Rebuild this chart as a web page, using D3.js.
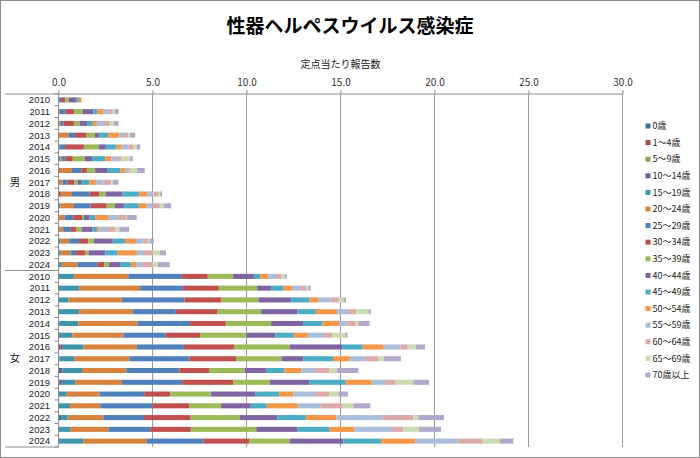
<!DOCTYPE html>
<html><head><meta charset="utf-8">
<script src="https://cdn.jsdelivr.net/npm/d3@7"></script>
<style>
html,body{margin:0;padding:0;background:#fff;}
svg{display:block;font-family:"Noto Sans CJK JP","Noto Sans",sans-serif;}
</style></head>
<body><svg id="chart" width="700" height="458"></svg>
<script>
const title = "性器ヘルペスウイルス感染症";
const axisTitle = "定点当たり報告数";
const groups = ["男", "女"];
const years = [2010,2011,2012,2013,2014,2015,2016,2017,2018,2019,2020,2021,2022,2023,2024];
const xTicks = [0, 5, 10, 15, 20, 25, 30];
const seriesNames = ["0歳","1～4歳","5～9歳","10～14歳","15～19歳","20～24歳","25～29歳","30～34歳","35～39歳","40～44歳","45～49歳","50～54歳","55～59歳","60～64歳","65～69歳","70歳以上"];
const seriesColors = ["#416f97","#a54c49","#8ea556","#6f5b91","#3f95ab","#d7823d","#4f81bd","#c0504d","#9bbb59","#8064a2","#4bacc6","#f79646","#a9bedb","#dcaaa9","#cddcaf","#b3a8cb"];

// each series: 15 male values (2010-2024) then 15 female values (2010-2024)
const age0     = [0,0,0,0,0,0,0,0,0,0,0,0,0,0,0,  0,0,0,0,0.05,0,0,0.05,0,0,0,0,0.14,0,0];
const age1_4   = [0,0,0,0,0,0,0.07,0,0.12,0,0,0,0,0,0,  0,0,0,0,0,0,0.10,0,0,0.05,0,0,0,0,0];
const age5_9   = [0,0,0,0,0,0,0,0,0,0,0,0,0,0,0,  0,0,0,0,0,0,0,0,0,0,0,0,0,0,0];
const age10_14 = [0,0,0,0,0,0,0,0,0,0,0,0,0,0,0,  0,0,0,0,0,0,0.13,0,0.20,0.13,0,0,0,0,0];
const age15_19 = [0,0,0,0,0,0.10,0,0,0,0.10,0,0,0.12,0.12,0.18,  0.82,1.10,0.53,1.10,1.01,0.74,1.10,0.78,1.05,0.71,0.44,0.62,0.35,0.62,1.33];
const age20_24 = [0,0.08,0.09,0.53,0.05,0.08,0.64,0.21,0.60,0.72,0.33,0.25,0.45,0.52,0.82,  2.89,3.24,2.84,2.84,3.14,2.71,2.84,2.94,2.36,2.48,1.74,1.60,1.90,2.04,3.37];
const age25_29 = [0.14,0.30,0.18,0.35,0.30,0.20,0.50,0.28,0.93,0.88,0.45,0.40,0.52,0.30,1.06,  2.85,2.29,3.33,2.30,2.80,2.25,2.50,3.19,2.82,3.21,2.38,2.78,2.16,2.22,3.01];
const age30_34 = [0.22,0.44,0.55,0.62,1.00,0.38,0.30,0.34,0.50,0.86,0.47,0.28,0.50,0.47,0.36,  1.38,1.90,1.95,2.22,1.90,1.83,2.70,2.48,1.61,2.73,1.38,1.95,2.48,2.16,2.45];
const age35_39 = [0.20,0.46,0.30,0.44,0.80,0.65,0.44,0.18,0.36,0.44,0.10,0.30,0.30,0.20,0.27,  1.35,2.04,1.99,2.32,2.41,2.48,2.93,2.43,1.86,1.91,2.18,1.70,2.62,3.48,2.13];
const age40_44 = [0.40,0.57,0.40,0.21,0.37,0.38,0.67,0.23,0.88,0.49,0.30,0.58,1.00,0.88,0.58,  1.10,0.73,1.74,1.93,1.70,1.52,2.78,1.15,1.13,2.13,2.34,1.58,1.99,2.20,2.87];
const age45_49 = [0.12,0.21,0.30,0.50,0.57,0.70,0.66,0.40,0.90,0.78,0.30,0.25,0.65,0.66,0.58,  0.34,0.67,0.98,0.98,1.03,0.99,1.10,1.58,0.99,1.93,1.28,0.85,1.52,1.70,2.00];
const age50_54 = [0.14,0.32,0.22,0.59,0.27,0.32,0.27,0.35,0.45,0.42,0.72,0.12,0.58,1.02,0.28,  0.43,0.46,0.48,1.12,0.89,0.74,1.12,0.89,0.89,1.38,0.76,1.65,1.63,1.31,1.81];
const age55_59 = [0,0.27,0.38,0.25,0.35,0.35,0.18,0.39,0.30,0.33,0.50,0.40,0.40,0.38,0.36,  0.41,0.43,0.62,0.53,0.44,0.85,0.89,0.80,0.74,0.71,1.15,1.22,2.45,2.00,2.30];
const age60_64 = [0,0.23,0.30,0.23,0.27,0.20,0.10,0.44,0.25,0.37,0.42,0.45,0.25,0.45,0.50,  0.30,0.32,0.44,0.50,0.44,0.44,0.39,0.71,0.76,0.57,0.76,1.17,1.63,0.62,1.29];
const age65_69 = [0,0.12,0.22,0.09,0.18,0.45,0.35,0.09,0.12,0.22,0.05,0.20,0.08,0.40,0.30,  0.18,0.12,0.27,0.66,0.14,0.71,0.44,0.32,0.39,0.94,0.48,0.57,0.27,0.83,0.92];
const age70    = [0,0.20,0.25,0.27,0.18,0.14,0.41,0.28,0.10,0.38,0.52,0.53,0.22,0.32,0.62,  0.09,0.12,0.12,0.11,0.59,0.11,0.48,0.89,1.15,0.83,0.50,0.90,1.37,1.17,0.71];

const seriesValues = [age0,age1_4,age5_9,age10_14,age15_19,age20_24,age25_29,age30_34,age35_39,age40_44,age45_49,age50_54,age55_59,age60_64,age65_69,age70];

// build rows
const rows = [];
groups.forEach((g, gi) => years.forEach((yr, yi) => {
  const idx = gi * years.length + yi;
  const r = { key: g + "-" + yr, group: g, year: yr };
  seriesNames.forEach((s, si) => { r[s] = seriesValues[si][idx]; });
  rows.push(r);
}));

const svg = d3.select("#chart");
const W = 700, H = 458;
const pLeft = 58.5, pRight = 622.5, pTop = 94, pBottom = 447;

svg.append("rect").attr("x", 0.5).attr("y", 0.5).attr("width", W - 1).attr("height", H - 1)
  .attr("fill", "#fff").attr("stroke", "#8c8c8c");

const x = d3.scaleLinear().domain([0, 30]).range([pLeft, pRight]);
const y = d3.scaleBand().domain(rows.map(d => d.key)).range([pTop, pBottom])
  .paddingInner(0.57).paddingOuter(0.285);
const color = d3.scaleOrdinal().domain(seriesNames).range(seriesColors);

// title
svg.append("text").attr("x", 350).attr("y", 33).attr("text-anchor", "middle")
  .attr("font-size", 19).attr("font-weight", "bold").attr("fill", "#000").text(title);
svg.append("text").attr("x", (pLeft + pRight) / 2).attr("y", 68).attr("text-anchor", "middle")
  .attr("font-size", 10).attr("fill", "#222").text(axisTitle);

// top axis + gridlines
const xAxis = d3.axisTop(x).tickValues(xTicks).tickFormat(d3.format(".1f")).tickSize(4).tickPadding(4);
const gx = svg.append("g").attr("transform", `translate(0,${pTop})`).call(xAxis);
gx.select(".domain").attr("stroke", "#8c8c8c").attr("d", `M${pLeft},0H${pRight}`);
gx.selectAll(".tick line").attr("stroke", "#8c8c8c");
gx.selectAll(".tick text").attr("font-size", 10).attr("fill", "#333")
  .attr("font-family", '"Noto Sans CJK JP", sans-serif');

svg.append("g").selectAll("line").data(xTicks.filter(t => t > 0)).join("line")
  .attr("x1", d => x(d)).attr("x2", d => x(d)).attr("y1", pTop).attr("y2", pBottom)
  .attr("stroke", "#9a9a9a").attr("stroke-width", 1);

// bars
const stack = d3.stack().keys(seriesNames);
const stacked = stack(rows);
svg.append("g").selectAll("g").data(stacked).join("g")
  .attr("fill", d => color(d.key))
  .selectAll("rect").data(d => d).join("rect")
  .attr("x", d => x(d[0])).attr("width", d => Math.max(0, x(d[1]) - x(d[0])))
  .attr("y", d => y(d.data.key)).attr("height", y.bandwidth());

// left category axis
const step = y.step();
svg.append("line").attr("x1", pLeft).attr("x2", pLeft).attr("y1", pTop).attr("y2", pBottom)
  .attr("stroke", "#8c8c8c");
const bounds = d3.range(rows.length + 1).map(i => pTop + i * step);
svg.append("g").selectAll("line").data(bounds).join("line")
  .attr("x1", pLeft - 4).attr("x2", pLeft).attr("y1", d => d).attr("y2", d => d)
  .attr("stroke", "#8c8c8c");
// group separators
const sepY = [pTop, pTop + years.length * step, pBottom];
svg.append("g").selectAll("line").data(sepY).join("line")
  .attr("x1", 5).attr("x2", pLeft).attr("y1", d => d).attr("y2", d => d)
  .attr("stroke", "#8c8c8c");

svg.append("g").selectAll("text").data(rows).join("text")
  .attr("x", 50).attr("y", d => y(d.key) + y.bandwidth() / 2)
  .attr("dy", "0.35em").attr("text-anchor", "end")
  .attr("font-family", '"Liberation Sans", Arial, sans-serif')
  .attr("font-size", 9.5).attr("fill", "#222").text(d => d.year);

svg.append("g").selectAll("text").data(groups).join("text")
  .attr("x", 15).attr("y", (d, i) => pTop + (i + 0.5) * years.length * step)
  .attr("dy", "0.35em").attr("text-anchor", "middle")
  .attr("font-size", 10.5).attr("fill", "#222").text(d => d);

// legend
const lg = svg.append("g");
const li = lg.selectAll("g").data(seriesNames).join("g")
  .attr("transform", (d, i) => `translate(645.5,${126 + i * 16.6})`);
li.append("rect").attr("x", 0).attr("y", -2.5).attr("width", 5).attr("height", 5)
  .attr("fill", d => color(d));
li.append("text").attr("x", 7).attr("y", 0).attr("dy", "0.35em")
  .attr("font-size", 9).attr("fill", "#222").text(d => d);
</script></body></html>
